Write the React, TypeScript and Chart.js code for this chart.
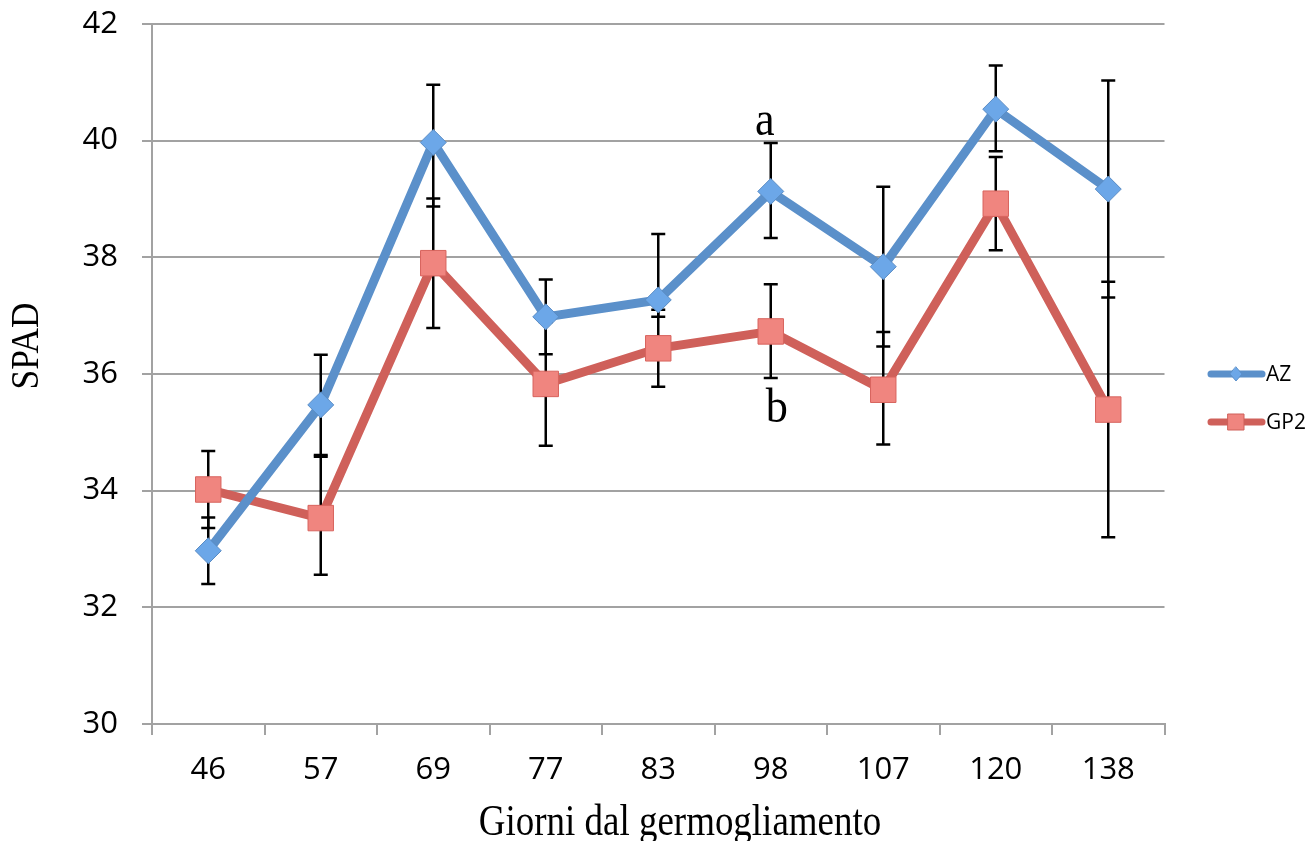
import { useEffect, useRef } from "react";
import { Chart, registerables } from "chart.js";

Chart.register(...registerables);

// Days after bud break
const days = ["46", "57", "69", "77", "83", "98", "107", "120", "138"];

// SPAD readings, clone AZ
const azValues = [32.97, 35.47, 39.97, 36.98, 37.27, 39.13, 37.84, 40.54, 39.17];
const azErrPlus = [0.57, 0.86, 0.99, 0.64, 1.13, 0.83, 1.37, 0.75, 1.86];
const azErrMinus = [0.57, 0.86, 1.1, 0.64, 0.29, 0.8, 1.37, 0.72, 1.86];

// SPAD readings, clone GP2
const gp2Values = [34.02, 33.53, 37.9, 35.83, 36.44, 36.73, 35.73, 38.92, 35.39];
const gp2ErrPlus = [0.66, 1.05, 1.11, 1.06, 0.66, 0.81, 0.99, 0.8, 2.19];
const gp2ErrMinus = [0.66, 0.97, 1.11, 1.06, 0.66, 0.8, 0.94, 0.8, 2.19];

const yTicks = [30, 32, 34, 36, 38, 40, 42];

const BLUE = "#5B90CA";
const RED = "#CF605A";
const GRID = "#A2A2A2";

const errorBars = [
  { plus: azErrPlus, minus: azErrMinus },
  { plus: gp2ErrPlus, minus: gp2ErrMinus },
];

const errorBarPlugin = {
  id: "errorBars",
  beforeDatasetsDraw(chart: any) {
    const { ctx } = chart;
    const y = chart.scales.y;
    ctx.save();
    ctx.strokeStyle = "#000";
    ctx.lineWidth = 2.5;
    chart.data.datasets.forEach((ds: any, i: number) => {
      const meta = chart.getDatasetMeta(i);
      const eb = errorBars[i];
      meta.data.forEach((pt: any, j: number) => {
        const v = ds.data[j];
        const top = y.getPixelForValue(v + eb.plus[j]);
        const bot = y.getPixelForValue(v - eb.minus[j]);
        const x = pt.x;
        ctx.beginPath();
        ctx.moveTo(x, top);
        ctx.lineTo(x, bot);
        ctx.moveTo(x - 7, top);
        ctx.lineTo(x + 7, top);
        ctx.moveTo(x - 7, bot);
        ctx.lineTo(x + 7, bot);
        ctx.stroke();
      });
    });
    ctx.restore();
  },
};

function drawText(
  ctx: CanvasRenderingContext2D,
  text: string,
  x: number,
  y: number,
  font: string,
  sx: number,
  rot = 0
) {
  ctx.save();
  ctx.translate(x, y);
  ctx.rotate(rot);
  ctx.scale(sx, 1);
  ctx.font = font;
  ctx.fillStyle = "#000";
  ctx.textAlign = "center";
  ctx.textBaseline = "alphabetic";
  ctx.fillText(text, 0, 0);
  ctx.restore();
}

const decorPlugin = {
  id: "decor",
  afterDraw(chart: any) {
    const { ctx } = chart;
    const xs = chart.scales.x;
    const ys = chart.scales.y;

    // Axis titles
    drawText(ctx, "Giorni dal germogliamento", 680, 835, "44px 'Liberation Serif'", 0.84);
    drawText(ctx, "SPAD", 38, 346, "41px 'Liberation Serif'", 0.86, -Math.PI / 2);

    // Significance letters at day 98
    const k = 5;
    const xa = xs.getPixelForValue(k);
    drawText(ctx, "a", xa - 6, ys.getPixelForValue(azValues[k] + azErrPlus[k]) - 8, "48px 'Liberation Serif'", 0.92);
    drawText(ctx, "b", xa + 6, ys.getPixelForValue(gp2Values[k] - gp2ErrMinus[k]) + 44, "48px 'Liberation Serif'", 0.92);

    // Legend
    const items = [
      { label: "AZ", color: BLUE, fill: "#6CA7E8", y: 374, shape: "diamond" },
      { label: "GP2", color: RED, fill: "#F0857F", y: 422, shape: "square" },
    ];
    items.forEach((it) => {
      ctx.save();
      ctx.strokeStyle = it.color;
      ctx.lineWidth = 7;
      ctx.lineCap = "round";
      ctx.beginPath();
      ctx.moveTo(1211, it.y);
      ctx.lineTo(1262, it.y);
      ctx.stroke();
      ctx.fillStyle = it.fill;
      ctx.strokeStyle = it.color;
      ctx.lineWidth = 1;
      ctx.beginPath();
      if (it.shape === "diamond") {
        ctx.moveTo(1236, it.y - 7);
        ctx.lineTo(1242, it.y);
        ctx.lineTo(1236, it.y + 7);
        ctx.lineTo(1230, it.y);
        ctx.closePath();
      } else {
        ctx.rect(1228, it.y - 8, 16, 16);
      }
      ctx.fill();
      ctx.stroke();
      ctx.fillStyle = "#000";
      ctx.font = "21px 'Open Sans'";
      ctx.textAlign = "left";
      ctx.textBaseline = "middle";
      ctx.fillText(it.label, 1266, it.y + 1);
      ctx.restore();
    });
  },
};

export default function App() {
  const canvasRef = useRef<HTMLCanvasElement | null>(null);

  useEffect(() => {
    const canvas = canvasRef.current;
    if (!canvas) return;
    const chart = new Chart(canvas, {
      type: "line",
      data: {
        labels: days,
        datasets: [
          {
            label: "AZ",
            data: azValues,
            borderColor: BLUE,
            borderWidth: 9,
            backgroundColor: "#6CA7E8",
            pointStyle: "rectRot",
            pointRadius: 13,
            pointBackgroundColor: "#6CA7E8",
            pointBorderColor: "#5A8CC4",
            pointBorderWidth: 1,
            tension: 0,
          },
          {
            label: "GP2",
            data: gp2Values,
            borderColor: RED,
            borderWidth: 9,
            backgroundColor: "#F0857F",
            pointStyle: "rect",
            pointRadius: 18,
            pointBackgroundColor: "#F0857F",
            pointBorderColor: "#D8645E",
            pointBorderWidth: 1,
            tension: 0,
          },
        ],
      },
      options: {
        responsive: false,
        animation: false,
        events: [],
        layout: { padding: { top: 24, right: 143.5, left: 0, bottom: 0 } },
        plugins: {
          legend: { display: false },
          tooltip: { enabled: false },
        },
        scales: {
          x: {
            type: "category",
            offset: true,
            grid: {
              offset: true,
              drawOnChartArea: false,
              drawTicks: true,
              tickLength: 11,
              color: GRID,
              lineWidth: 2,
            },
            border: { display: true, color: GRID, width: 2 },
            ticks: {
              color: "#000",
              font: { family: "'Open Sans'", size: 31 },
              padding: 17,
              maxRotation: 0,
            },
            afterFit(scale: any) {
              scale.height = 117;
              scale.paddingLeft = 0;
              scale.paddingRight = 0;
            },
          },
          y: {
            min: 30,
            max: 42,
            afterBuildTicks(scale: any) {
              scale.ticks = yTicks.map((v) => ({ value: v }));
            },
            grid: {
              drawTicks: true,
              tickLength: 10,
              color: GRID,
              lineWidth: 2,
            },
            border: { display: true, color: GRID, width: 2 },
            ticks: {
              color: "#000",
              font: { family: "'Open Sans'", size: 31 },
              padding: 24,
            },
            afterFit(scale: any) {
              scale.width = 152;
              scale.paddingTop = 0;
              scale.paddingBottom = 0;
            },
          },
        },
      },
      plugins: [errorBarPlugin, decorPlugin],
    });
    return () => chart.destroy();
  }, []);

  return (
    <div style={{ position: "absolute", left: 0, top: 0, width: 1308, height: 841, background: "#fff" }}>
      <canvas ref={canvasRef} width={1308} height={841} style={{ display: "block" }} />
    </div>
  );
}
